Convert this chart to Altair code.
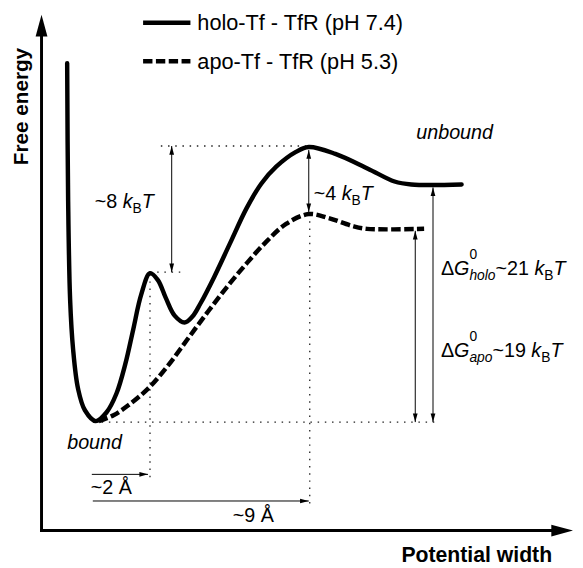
import altair as alt
import pandas as pd

# ---------------- data (x = distance from the energy axis, e = height above the width axis) -------------
holo_x = [26, 27, 29, 32, 37, 44, 55, 66, 76, 85, 93, 101, 110, 118, 126, 135, 145, 153, 161, 175, 191, 208, 223, 238, 258, 271, 298, 331, 358, 375, 426]
holo_e = [474, 334, 234, 184, 144, 122, 111, 120, 139, 169, 204, 239, 261, 254, 236, 218, 211, 217, 230, 257, 291, 327, 352, 369, 384, 389, 382, 367, 354, 351, 351]

apo_x = [58, 73, 88, 108, 128, 148, 168, 188, 208, 228, 248, 271, 291, 315, 330, 388]
apo_e = [111, 117, 127, 144, 167, 194, 221, 247, 271, 293, 311, 321, 317, 309, 306, 306]

# dotted guide lines
dot_x1 = [121, 110, 61, 110, 272]
dot_x2 = [271, 145, 400, 110, 272]
dot_e1 = [390, 262, 110, 260, 321]
dot_e2 = [390, 262, 110, 49, 27]

# thin measurement arrows
arr_x1 = [132, 271, 397, 379, 51, 52]
arr_x2 = [132, 271, 397, 379, 108, 271]
arr_e1 = [390, 386, 348, 304, 57, 30]
arr_e2 = [262, 323, 110, 110, 57, 30]
arr_kind = ["both", "both", "both", "both", "end", "end"]

# legend
leg_labels = ["holo-Tf - TfR (pH 7.4)", "apo-Tf - TfR (pH 5.3)"]
leg_line_x1 = [103, 103]
leg_line_x2 = [151, 151]
leg_line_e = [515, 476]
leg_text_x = [158, 158]
leg_text_e = [508, 468]

# axes
axis_tip_x = [0, 539]
axis_tip_e = [523, 0]

# annotation labels: (pieces, left x, baseline e)
labels = [
    ([("~8 ", "n"), ("k", "i"), ("B", "sub"), ("T", "i")], 54, 327),
    ([("~4 ", "n"), ("k", "i"), ("B", "sub"), ("T", "i")], 276, 335),
    ([("Δ", "n"), ("G", "i"), ("0", "sup"), ("holo", "subi"), ("~21 ", "n"), ("k", "i"), ("B", "sub"), ("T", "i")], 405, 259),
    ([("Δ", "n"), ("G", "i"), ("0", "sup"), ("apo", "subi"), ("~19 ", "n"), ("k", "i"), ("B", "sub"), ("T", "i")], 405, 176),
    ([("unbound", "i")], 380, 397),
    ([("bound", "i")], 26, 83),
    ([("~2 Å", "n")], 50, 37),
    ([("~9 Å", "n")], 194, 9),
]

# ---------------- helpers ----------------
FONT = "Liberation Sans"
BIG, SMALL = 20, 14
WID = {' ': 278, '~': 584, 'Δ': 668, 'G': 778, 'T': 611, 'k': 500, 'B': 667,
       'h': 556, 'o': 556, 'l': 222, 'a': 556, 'p': 556, 'Å': 667}


def tw(s, size):
    return sum(WID.get(c, 556) for c in s) * size / 1000.0


rows = []
for pieces, x0, e0 in labels:
    cx = x0
    for txt, kind in pieces:
        if kind in ("n", "i"):
            rows.append(dict(x=cx, e=e0, t=txt, k=kind))
            cx += tw(txt, BIG)
        elif kind in ("sub", "subi"):
            rows.append(dict(x=cx, e=e0 - 5, t=txt, k=kind))
            cx += tw(txt, SMALL)
        else:  # superscript, does not advance
            rows.append(dict(x=cx, e=e0 + 16, t=txt, k="sub"))
text_df = pd.DataFrame(rows)

holo_df = pd.DataFrame({"x": holo_x, "e": holo_e, "i": range(len(holo_x))})
apo_df = pd.DataFrame({"x": apo_x, "e": apo_e, "i": range(len(apo_x))})
dot_df = pd.DataFrame({"x": dot_x1, "x2": dot_x2, "e": dot_e1, "e2": dot_e2})
arr_df = pd.DataFrame({"x": arr_x1, "x2": arr_x2, "e": arr_e1, "e2": arr_e2})

heads = []
for x1, x2, e1, e2, kd in zip(arr_x1, arr_x2, arr_e1, arr_e2, arr_kind):
    if kd == "both":
        heads.append(dict(x=x1, e=max(e1, e2), d="up"))
        heads.append(dict(x=x1, e=min(e1, e2), d="down"))
    else:
        heads.append(dict(x=x2, e=e2, d="right"))
head_df = pd.DataFrame(heads)

axis_df = pd.DataFrame({"x": [0, 0], "x2": [0, axis_tip_x[1] - 12], "e": [0, 0], "e2": [axis_tip_e[0] - 12, 0]})
axis_head_df = pd.DataFrame({"x": axis_tip_x, "e": axis_tip_e, "d": ["up", "right"]})

leg_line_df = pd.DataFrame({"x": leg_line_x1, "x2": leg_line_x2, "e": leg_line_e, "s": ["holo", "apo"]})
leg_text_df = pd.DataFrame({"x": leg_text_x, "e": leg_text_e, "t": leg_labels})

title_df = pd.DataFrame({"x": [-14, 365], "e": [430, -32], "t": ["Free energy", "Potential width"], "a": [270, 0]})

# ---------------- scales ----------------
xs = alt.Scale(domain=[-34, 541], nice=False, zero=False)
ys = alt.Scale(domain=[-34, 526], nice=False, zero=False)


def X(f="x"):
    return alt.X(f"{f}:Q", scale=xs, axis=None)


def Y(f="e"):
    return alt.Y(f"{f}:Q", scale=ys, axis=None)


small_paths = alt.Scale(domain=["up", "down", "right"],
                        range=["M0,0L0.6,2.2L-0.6,2.2Z", "M0,0L0.6,-2.2L-0.6,-2.2Z", "M0,0L-2.2,-0.6L-2.2,0.6Z"])
big_paths = alt.Scale(domain=["up", "right"], range=["M0,0L0.6,2L-0.6,2Z", "M0,0L-2,-0.6L-2,0.6Z"])

# ---------------- layers ----------------
dotted = alt.Chart(dot_df).mark_rule(color="#222", strokeWidth=1.3, strokeDash=[1.5, 5.8]).encode(
    x=X(), x2="x2:Q", y=Y(), y2="e2:Q")

arrows = alt.Chart(arr_df).mark_rule(color="black", strokeWidth=1).encode(
    x=X(), x2="x2:Q", y=Y(), y2="e2:Q")

arrow_heads = alt.Chart(head_df).mark_point(filled=True, fill="black", strokeWidth=0, opacity=1, size=64).encode(
    x=X(), y=Y(), shape=alt.Shape("d:N", scale=small_paths, legend=None))

axes = alt.Chart(axis_df).mark_rule(color="black", strokeWidth=3, strokeCap="square").encode(
    x=X(), x2="x2:Q", y=Y(), y2="e2:Q")

axis_heads = alt.Chart(axis_head_df).mark_point(filled=True, fill="black", strokeWidth=0, opacity=1, size=400).encode(
    x=X(), y=Y(), shape=alt.Shape("d:N", scale=big_paths, legend=None))

holo = alt.Chart(holo_df).mark_line(color="black", strokeWidth=4.5, interpolate="catmull-rom", strokeCap="round").encode(
    x=X(), y=Y(), order="i:Q")

apo = alt.Chart(apo_df).mark_line(color="black", strokeWidth=4.5, interpolate="catmull-rom", strokeDash=[9.5, 3.5]).encode(
    x=X(), y=Y(), order="i:Q")

leg_solid = alt.Chart(leg_line_df).transform_filter(alt.datum.s == "holo").mark_rule(
    color="black", strokeWidth=4.5).encode(x=X(), x2="x2:Q", y=Y())
leg_dash = alt.Chart(leg_line_df).transform_filter(alt.datum.s == "apo").mark_rule(
    color="black", strokeWidth=4.5, strokeDash=[9.5, 3.5]).encode(x=X(), x2="x2:Q", y=Y())

leg_text = alt.Chart(leg_text_df).mark_text(align="left", baseline="alphabetic", font=FONT, fontSize=22,
                                            color="black").encode(x=X(), y=Y(), text="t:N")


def text_layer(kind, size, style):
    return alt.Chart(text_df).transform_filter(alt.datum.k == kind).mark_text(
        align="left", baseline="alphabetic", font=FONT, fontSize=size, fontStyle=style, color="black"
    ).encode(x=X(), y=Y(), text="t:N")


t_n = text_layer("n", BIG, "normal")
t_i = text_layer("i", BIG, "italic")
t_sub = text_layer("sub", SMALL, "normal")
t_subi = text_layer("subi", SMALL, "italic")

title_y = alt.Chart(title_df).transform_filter(alt.datum.a == 270).mark_text(
    align="center", baseline="alphabetic", angle=270, font=FONT, fontSize=21, fontWeight="bold", color="black"
).encode(x=X(), y=Y(), text="t:N")
title_x = alt.Chart(title_df).transform_filter(alt.datum.a == 0).mark_text(
    align="left", baseline="alphabetic", font=FONT, fontSize=21.5, fontWeight="bold", color="black"
).encode(x=X(), y=Y(), text="t:N")

chart = alt.layer(
    dotted, arrows, arrow_heads, axes, axis_heads, apo, holo, leg_solid, leg_dash, leg_text,
    t_n, t_i, t_sub, t_subi, title_y, title_x
).properties(
    width=575, height=560, padding=0, autosize=alt.AutoSizeParams(type="none"), background="white"
).configure_view(strokeWidth=0)

chart.save("out.html", embed_options={"renderer": "svg", "actions": False})
